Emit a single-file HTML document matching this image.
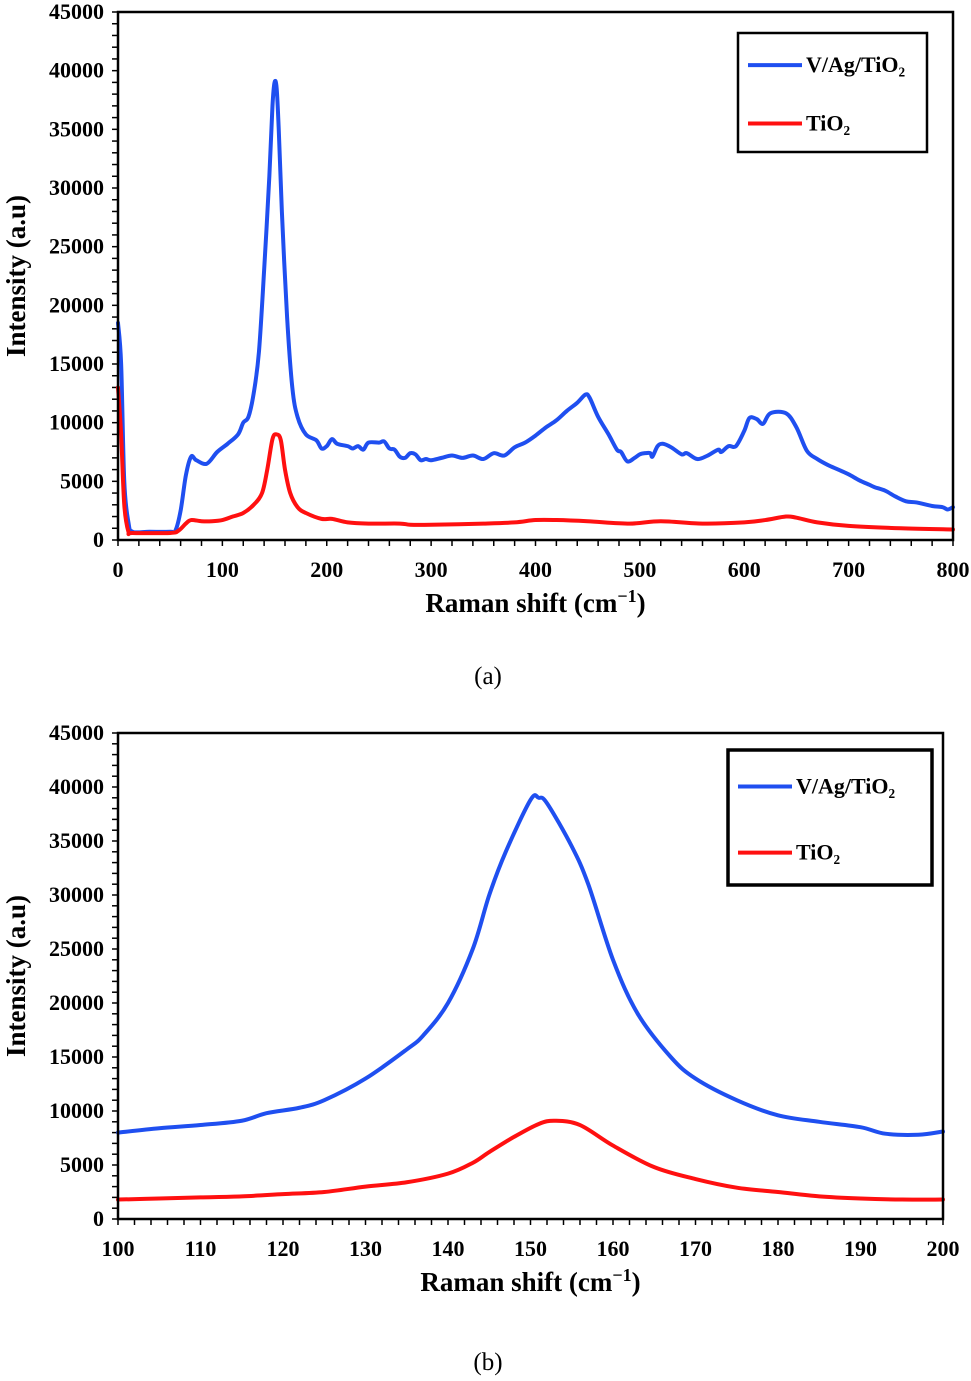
<!DOCTYPE html>
<html><head><meta charset="utf-8"><style>
body{margin:0;background:#fff;}
svg{display:block;font-family:"Liberation Serif",serif;}
</style></head><body>
<svg id="s" width="971" height="1381" viewBox="0 0 971 1381" xmlns="http://www.w3.org/2000/svg"></svg>
<script>
const aBlueX=[0,3,6,10,14,30,50,55,60,65,70,75,85,95,105,115,120,125,130,135,140,145,148,150,152,154,157,162,167,172,180,190,195,200,205,210,220,225,230,235,240,250,255,260,265,270,275,280,285,290,295,300,310,320,330,340,350,360,370,380,390,400,410,420,430,440,448,452,460,470,478,482,488,495,500,505,510,512,517,522,530,540,545,555,565,575,578,585,592,600,605,612,618,625,640,650,660,670,680,690,700,710,720,725,735,745,755,765,780,790,795,800];
const aBlueY=[18500,15000,5000,1500,700,700,700,800,2500,5500,7100,6800,6500,7500,8200,9000,10000,10500,12500,16000,23000,31000,37000,39000,38500,35000,28000,19000,13000,10500,9000,8500,7800,8000,8600,8200,8000,7800,8000,7700,8300,8300,8400,7800,7700,7100,7000,7400,7300,6800,6900,6800,7000,7200,7000,7200,6900,7400,7200,7900,8300,8900,9600,10200,11000,11700,12400,12100,10500,9000,7700,7500,6700,7000,7300,7400,7400,7100,8000,8200,7900,7300,7400,6900,7200,7700,7500,8000,8000,9300,10400,10300,9900,10800,10800,9600,7600,6900,6400,6000,5600,5100,4700,4500,4200,3700,3300,3200,2900,2800,2600,2800];
const aRedX=[0,3,6,10,14,50,58,65,70,80,90,100,110,120,130,138,143,148,152,156,160,165,172,180,195,205,220,240,270,280,300,350,380,400,420,450,490,520,560,600,620,640,650,670,700,750,800];
const aRedY=[13000,9000,3000,700,600,600,800,1400,1700,1600,1600,1700,2000,2300,3000,4000,6000,8600,9000,8500,6000,4000,2800,2300,1800,1800,1500,1400,1400,1300,1300,1400,1500,1700,1700,1600,1400,1600,1400,1500,1700,2000,1900,1500,1200,1000,900];
const bBlueX=[100,105,110,115,118,122,125,130,135,137,140,143,145,147,150,151,152,155,157,160,163,167,170,175,180,185,190,193,197,200];
const bBlueY=[8000,8400,8700,9100,9800,10300,11000,13000,15700,17000,20000,25000,30000,34000,38800,39000,38500,34500,31000,24000,19000,15000,13000,11000,9600,9000,8500,7900,7800,8100];
const bRedX=[100,105,110,115,120,125,130,135,140,143,145,148,151,153,156,160,165,170,175,180,185,190,195,200];
const bRedY=[1800,1900,2000,2100,2300,2500,3000,3400,4200,5200,6200,7600,8800,9100,8700,6800,4800,3700,2900,2500,2100,1900,1800,1800];
const yTicks=[0,5000,10000,15000,20000,25000,30000,35000,40000,45000];
const aXTicks=[0,100,200,300,400,500,600,700,800];
const bXTicks=[100,110,120,130,140,150,160,170,180,190,200];
const S=document.getElementById('s');const NS='http://www.w3.org/2000/svg';
function mk(t,a,p){const e=document.createElementNS(NS,t);for(const k in a)e.setAttribute(k,a[k]);(p||S).appendChild(e);return e;}
function smooth(P){let d='M'+P[0][0]+','+P[0][1];for(let i=0;i<P.length-1;i++){const p0=P[i-1]||P[i],p1=P[i],p2=P[i+1],p3=P[i+2]||p2;
 const c1=[p1[0]+(p2[0]-p0[0])/6,p1[1]+(p2[1]-p0[1])/6],c2=[p2[0]-(p3[0]-p1[0])/6,p2[1]-(p3[1]-p1[1])/6];
 d+=' C'+c1[0]+','+c1[1]+' '+c2[0]+','+c2[1]+' '+p2[0]+','+p2[1];}return d;}
function panel(id,L,R,T,B,x0,x1,xt,minX,series,leg,lw,cap){
 const g=mk('g',{});
 
 
 const sx=v=>L+(v-x0)/(x1-x0)*(R-L), sy=v=>B-v/45000*(B-T);
 for(let v=0;v<=45000;v+=1000){const y=sy(v);mk('line',{x1:L-6,x2:L,y1:y,y2:y,stroke:'#000','stroke-width':1.5},g);}
 for(let v=x0;v<=x1+1e-9;v+=minX){const x=sx(v);mk('line',{x1:x,x2:x,y1:B,y2:B+6,stroke:'#000','stroke-width':1.5},g);}
 yTicks.forEach(v=>{const t=mk('text',{x:L-14,y:sy(v)+7,'text-anchor':'end','font-size':22,'font-weight':'bold'},g);t.textContent=v;
  });
 xt.forEach(v=>{const t=mk('text',{x:sx(v),y:B+37,'text-anchor':'middle','font-size':22,'font-weight':'bold'},g);t.textContent=v;
  });
 series.forEach(s=>{const p=mk('path',{d:smooth(s.x.map((v,i)=>[sx(v),sy(s.y[i])])),fill:'none',stroke:s.c,'stroke-width':4,'stroke-linejoin':'round','stroke-linecap':'round'},g);
  });
 const fr=mk('rect',{x:L,y:T,width:R-L,height:B-T,fill:'none',stroke:'#000','stroke-width':2.5},g);
 
 const lg=mk('g',{},g);
 mk('rect',{x:leg[0],y:leg[1],width:leg[2],height:leg[3],fill:'#fff',stroke:'#000','stroke-width':lw},lg);
 const rows=[[leg[1]+leg[3]*0.27,'#1f4ff0','V/Ag/TiO₂'],[leg[1]+leg[3]*0.76,'#ff1010','TiO₂']];
 rows.forEach(r=>{mk('line',{x1:leg[0]+10,x2:leg[0]+64,y1:r[0],y2:r[0],stroke:r[1],'stroke-width':4},lg);
  const t=mk('text',{x:leg[0]+68,y:r[0]+7,'font-size':22,'font-weight':'bold'},lg);t.textContent=r[2];
  });
 const xt2=mk('text',{x:(L+R)/2,y:B+72,'text-anchor':'middle','font-size':27,'font-weight':'bold'},g);
 xt2.innerHTML='Raman shift (cm<tspan dy="-10" font-size="18">−1</tspan><tspan dy="10">)</tspan>';
 
 const yt=mk('text',{x:0,y:0,'text-anchor':'middle','font-size':27,'font-weight':'bold',transform:`translate(${25},${(T+B)/2}) rotate(-90)`},g);
 yt.textContent='Intensity (a.u)';
 
 const c=mk('text',{x:488,y:cap,'text-anchor':'middle','font-size':25},g);c.textContent='('+id+')';
 
}
panel('a',118,953,12,540,0,800,aXTicks,20,[{x:aBlueX,y:aBlueY,c:'#1f4ff0',n:'series-v-ag-tio2'},{x:aRedX,y:aRedY,c:'#ff1010',n:'series-tio2'}],[738,33,189,119],2.5,684);
panel('b',118,943,733,1219,100,200,bXTicks,2,[{x:bBlueX,y:bBlueY,c:'#1f4ff0',n:'series-v-ag-tio2'},{x:bRedX,y:bRedY,c:'#ff1010',n:'series-tio2'}],[728,750,204,135],3.5,1370);
</script>
</body></html>
